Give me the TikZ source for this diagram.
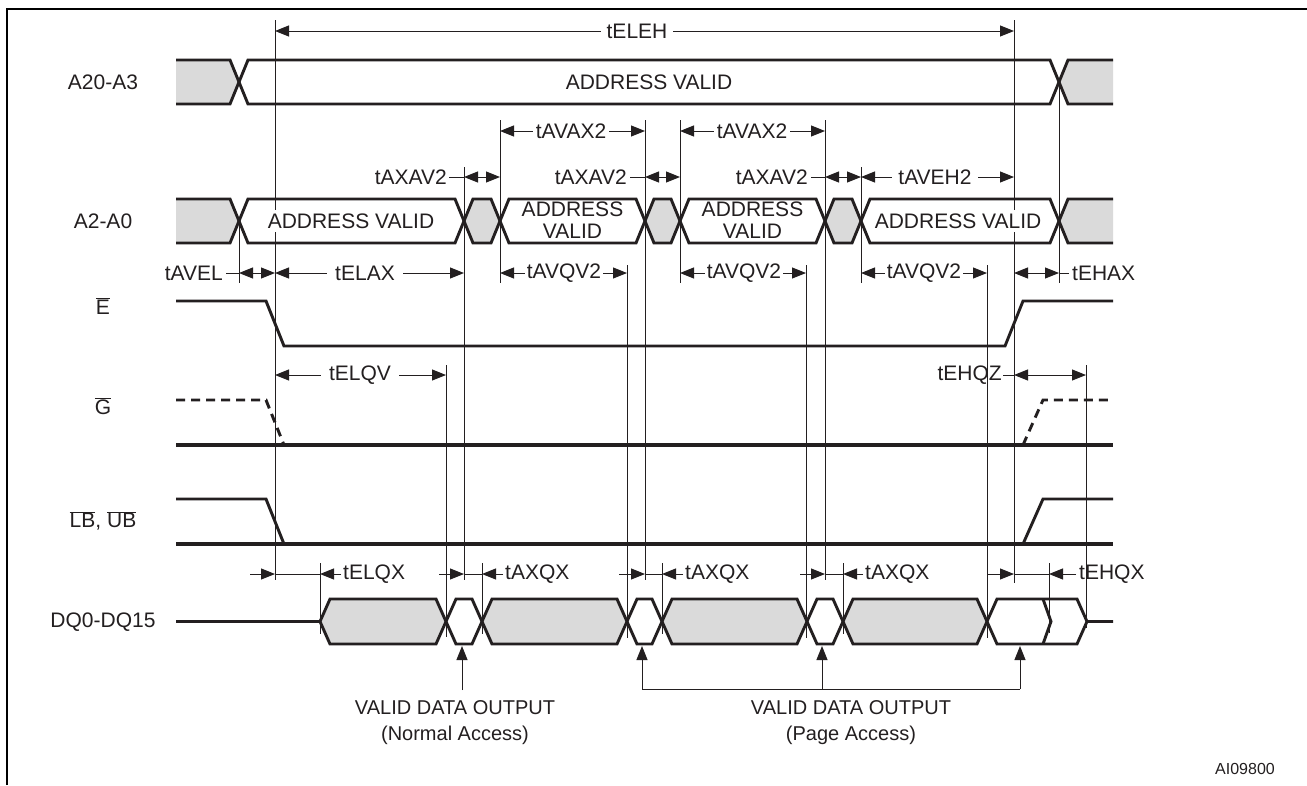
\documentclass[tikz,border=0pt]{standalone}
\usepackage{fontspec}
\setmainfont{Liberation Sans}
\usetikzlibrary{arrows.meta}
\definecolor{sg}{RGB}{218,218,218}
\definecolor{ink}{RGB}{35,31,32}
\newcommand{\ovl}[1]{$\overline{\mbox{#1}}$}
\begin{document}
\begin{tikzpicture}[x=1pt,y=-1pt,
  sig/.style={line width=2.9pt,color=ink},
  thinl/.style={line width=1pt,color=ink},
  dd/.style={thinl,{Triangle[length=14pt,width=11pt]}-{Triangle[length=14pt,width=11pt]}},
  da/.style={thinl,-{Triangle[length=14pt,width=11pt]}},
  lab/.style={font=\fontsize{21}{22}\selectfont, inner sep=0pt, text=ink},
  onl/.style={lab, fill=white, inner xsep=6pt, inner ysep=2pt},
  sml/.style={font=\fontsize{20}{22}\selectfont, inner sep=0pt, text=ink},
]
\useasboundingbox (0,0) rectangle (1307,785);
\fill[white] (0,0) rectangle (1307,785);
% frame
\draw[line width=2pt] (7,785) -- (7,9) -- (1307,9);

% vertical reference lines
\foreach \x/\a/\b in {239/221/283, 275/20/580, 446/365/637, 464/167/580, 482/563/634,
  500/120/283, 627/265/638, 645/120/580, 662/563/634, 680/120/283, 806/265/638,
  825/120/580, 843/563/634, 861/167/283, 987/265/638, 1014/20/583, 1049/563/633,
  1059/82/283, 1086/365/628, 320/563/634}
  \draw[thinl] (\x,\a) -- (\x,\b);

% A20-A3
\fill[sg] (176,60) -- (230,60) -- (239,82) -- (230,104) -- (176,104) -- cycle;
\fill[sg] (1059,82) -- (1068,60) -- (1113,60) -- (1113,104) -- (1068,104) -- cycle;
\draw[sig] (176,60) -- (230,60) -- (248,104) -- (1050,104) -- (1068,60) -- (1113,60);
\draw[sig] (176,104) -- (230,104) -- (248,60) -- (1050,60) -- (1068,104) -- (1113,104);

% A2-A0
\fill[sg] (176,199) -- (230,199) -- (239,221) -- (230,243) -- (176,243) -- cycle;
\fill[sg] (464,221) -- (473,199) -- (491,199) -- (500,221) -- (491,243) -- (473,243) -- cycle;
\fill[sg] (645,221) -- (654,199) -- (671,199) -- (680,221) -- (671,243) -- (654,243) -- cycle;
\fill[sg] (825,221) -- (834,199) -- (852,199) -- (861,221) -- (852,243) -- (834,243) -- cycle;
\fill[sg] (1059,221) -- (1068,199) -- (1113,199) -- (1113,243) -- (1068,243) -- cycle;
\draw[sig] (176,199) -- (230,199) -- (248,243) -- (455,243) -- (473,199) -- (491,199) -- (509,243) -- (636,243) -- (654,199) -- (671,199) -- (689,243) -- (816,243) -- (834,199) -- (852,199) -- (870,243) -- (1050,243) -- (1068,199) -- (1113,199);
\draw[sig] (176,243) -- (230,243) -- (248,199) -- (455,199) -- (473,243) -- (491,243) -- (509,199) -- (636,199) -- (654,243) -- (671,243) -- (689,199) -- (816,199) -- (834,243) -- (852,243) -- (870,199) -- (1050,199) -- (1068,243) -- (1113,243);

% E
\draw[sig] (176,301) -- (266,301) -- (284,346) -- (1005,346) -- (1023,301) -- (1113,301);
% G
\draw[sig,line width=3.1pt] (176,445) -- (1113,445);
\draw[sig,dash pattern=on 9pt off 6pt] (176,400) -- (266,400) -- (284,445);
\draw[sig,dash pattern=on 9pt off 6pt] (1023,445) -- (1043,400) -- (1113,400);
% LB UB
\draw[sig,line width=3.1pt] (176,544) -- (1113,544);
\draw[sig] (176,499) -- (266,499) -- (284,544);
\draw[sig] (1023,544) -- (1043,499) -- (1113,499);

% DQ
\fill[sg] (320,621.5) -- (330,599) -- (436,599) -- (446,621.5) -- (436,644) -- (330,644) -- cycle;
\fill[sg] (482,621.5) -- (492,599) -- (617,599) -- (627,621.5) -- (617,644) -- (492,644) -- cycle;
\fill[sg] (662,621.5) -- (672,599) -- (797,599) -- (807,621.5) -- (797,644) -- (672,644) -- cycle;
\fill[sg] (843,621.5) -- (853,599) -- (977,599) -- (987,621.5) -- (977,644) -- (853,644) -- cycle;
\draw[sig] (176,621.5) -- (320,621.5) -- (330,599) -- (436,599) -- (456,644) -- (472,644) -- (492,599) -- (617,599) -- (637,644) -- (652,644) -- (672,599) -- (797,599) -- (817,644) -- (833,644) -- (853,599) -- (977,599) -- (997,644) -- (1077,644) -- (1087,621.5) -- (1113,621.5);
\draw[sig] (320,621.5) -- (330,644) -- (436,644) -- (456,599) -- (472,599) -- (492,644) -- (617,644) -- (637,599) -- (652,599) -- (672,644) -- (797,644) -- (817,599) -- (833,599) -- (853,644) -- (977,644) -- (997,599) -- (1077,599) -- (1087,621.5);
\draw[sig] (1043,599) -- (1051,621.5) -- (1043,644);

% signal names
\node[lab] (nA20) at (103,82) {A20-A3};
\node[lab] (nA2) at (103,221) {A2-A0};
\node[lab] (nE) at (103,306) {\ovl{E}};
\node[lab] (nG) at (103,406) {\ovl{G}};
\node[lab] (nLB) at (103,521) {\ovl{LB}, \ovl{UB}};
\node[lab] (nDQ) at (103,622) {DQ0-DQ15};

% box texts
\node[lab] (av0) at (649,82) {ADDRESS VALID};
\node[lab,fill=white,inner xsep=1pt,inner ysep=4pt] (av1) at (351,221) {ADDRESS VALID};
\node[lab,align=center] (av2) at (572.5,220) {ADDRESS\\VALID};
\node[lab,align=center] (av3) at (752.5,220) {ADDRESS\\VALID};
\node[lab,fill=white,inner xsep=1pt,inner ysep=4pt] (av4) at (958,221) {ADDRESS VALID};

% tELEH
\draw[dd] (275,31) -- (1014,31);
\node[onl] (tELEH) at (637,31) {tELEH};
% tAVAX2
\draw[dd] (500,131) -- (645,131);
\node[onl,inner xsep=3pt] (tAVAX2a) at (571,131) {tAVAX2};
\draw[dd] (680,131) -- (825,131);
\node[onl,inner xsep=3pt] (tAVAX2b) at (752,131) {tAVAX2};
% tAXAV2
\node[lab,anchor=east] (tAXAV2a) at (447,177) {tAXAV2};
\draw[thinl] (449,177) -- (464,177);
\draw[dd] (464,177) -- (500,177);
\node[lab,anchor=east] (tAXAV2b) at (627,177) {tAXAV2};
\draw[thinl] (630,177) -- (645,177);
\draw[dd] (645,177) -- (680,177);
\node[lab,anchor=east] (tAXAV2c) at (808,177) {tAXAV2};
\draw[thinl] (811,177) -- (825,177);
\draw[dd] (825,177) -- (861,177);
% tAVEH2
\draw[dd] (861,177) -- (1014,177);
\node[onl] (tAVEH2) at (935,177) {tAVEH2};
% tAVEL, tELAX
\node[lab,anchor=east] (tAVEL) at (223,273) {tAVEL};
\draw[thinl] (226,273) -- (239,273);
\draw[dd] (239,273) -- (275,273);
\draw[dd] (275,273) -- (464,273);
\node[onl,inner xsep=8pt] (tELAX) at (365,273) {tELAX};
% tAVQV2
\draw[dd] (500,273) -- (627,273);
\node[onl,inner xsep=2pt] (tAVQV2a) at (564,273) {tAVQV2};
\draw[dd] (680,273) -- (806,273);
\node[onl,inner xsep=2pt] (tAVQV2b) at (744,273) {tAVQV2};
\draw[dd] (861,273) -- (987,273);
\node[onl,inner xsep=2pt] (tAVQV2c) at (924,273) {tAVQV2};
% tEHAX
\draw[dd] (1014,273) -- (1059,273);
\draw[thinl] (1059,273) -- (1069,273);
\node[lab,anchor=west] (tEHAX) at (1072,273) {tEHAX};
% tELQV
\draw[dd] (275,375) -- (446,375);
\node[onl,inner xsep=8pt] (tELQV) at (360,375) {tELQV};
% tEHQZ
\node[lab,anchor=east] (tEHQZ) at (1002,375) {tEHQZ};
\draw[thinl] (1003,375) -- (1014,375);
\draw[dd] (1014,375) -- (1086,375);

% DQ timing
\draw[da] (250,574) -- (275,574);
\draw[thinl] (275,574) -- (320,574);
\draw[da] (341,574) -- (320,574);
\node[lab,anchor=west] (tELQX) at (343,574) {tELQX};

\draw[da] (439,574) -- (464,574);
\draw[thinl] (464,574) -- (482,574);
\draw[da] (503,574) -- (482,574);
\node[lab,anchor=west] (tAXQXa) at (505,574) {tAXQX};

\draw[da] (619,574) -- (645,574);
\draw[thinl] (645,574) -- (662,574);
\draw[da] (683,574) -- (662,574);
\node[lab,anchor=west] (tAXQXb) at (685,574) {tAXQX};

\draw[da] (800,574) -- (825,574);
\draw[thinl] (825,574) -- (843,574);
\draw[da] (863,574) -- (843,574);
\node[lab,anchor=west] (tAXQXc) at (865,574) {tAXQX};

\draw[da] (987,574) -- (1014,574);
\draw[thinl] (1014,574) -- (1049,574);
\draw[da] (1076,574) -- (1049,574);
\node[lab,anchor=west] (tEHQX) at (1079,574) {tEHQX};

% valid data output arrows
\coordinate (n1) at (462,690);
\coordinate (p1) at (642,689);
\coordinate (p2) at (822,689);
\coordinate (p3) at (1020,689);
\draw[da] (n1) -- (462,646);
\draw[thinl] (p1) -- (p3);
\draw[da] (p1) -- (642,646);
\draw[da] (p2) -- (822,646);
\draw[da] (p3) -- (1020,646);

\node[sml] (vn1) at (455,708) {VALID DATA OUTPUT};
\node[sml] (vn2) at (455,735) {(Normal Access)};
\node[sml] (vp1) at (851,708) {VALID DATA OUTPUT};
\node[sml] (vp2) at (851,735) {(Page Access)};
\node[font=\fontsize{16}{18}\selectfont, inner sep=0pt, text=ink] (ai) at (1245,769) {AI09800};
\end{tikzpicture}
\end{document}
